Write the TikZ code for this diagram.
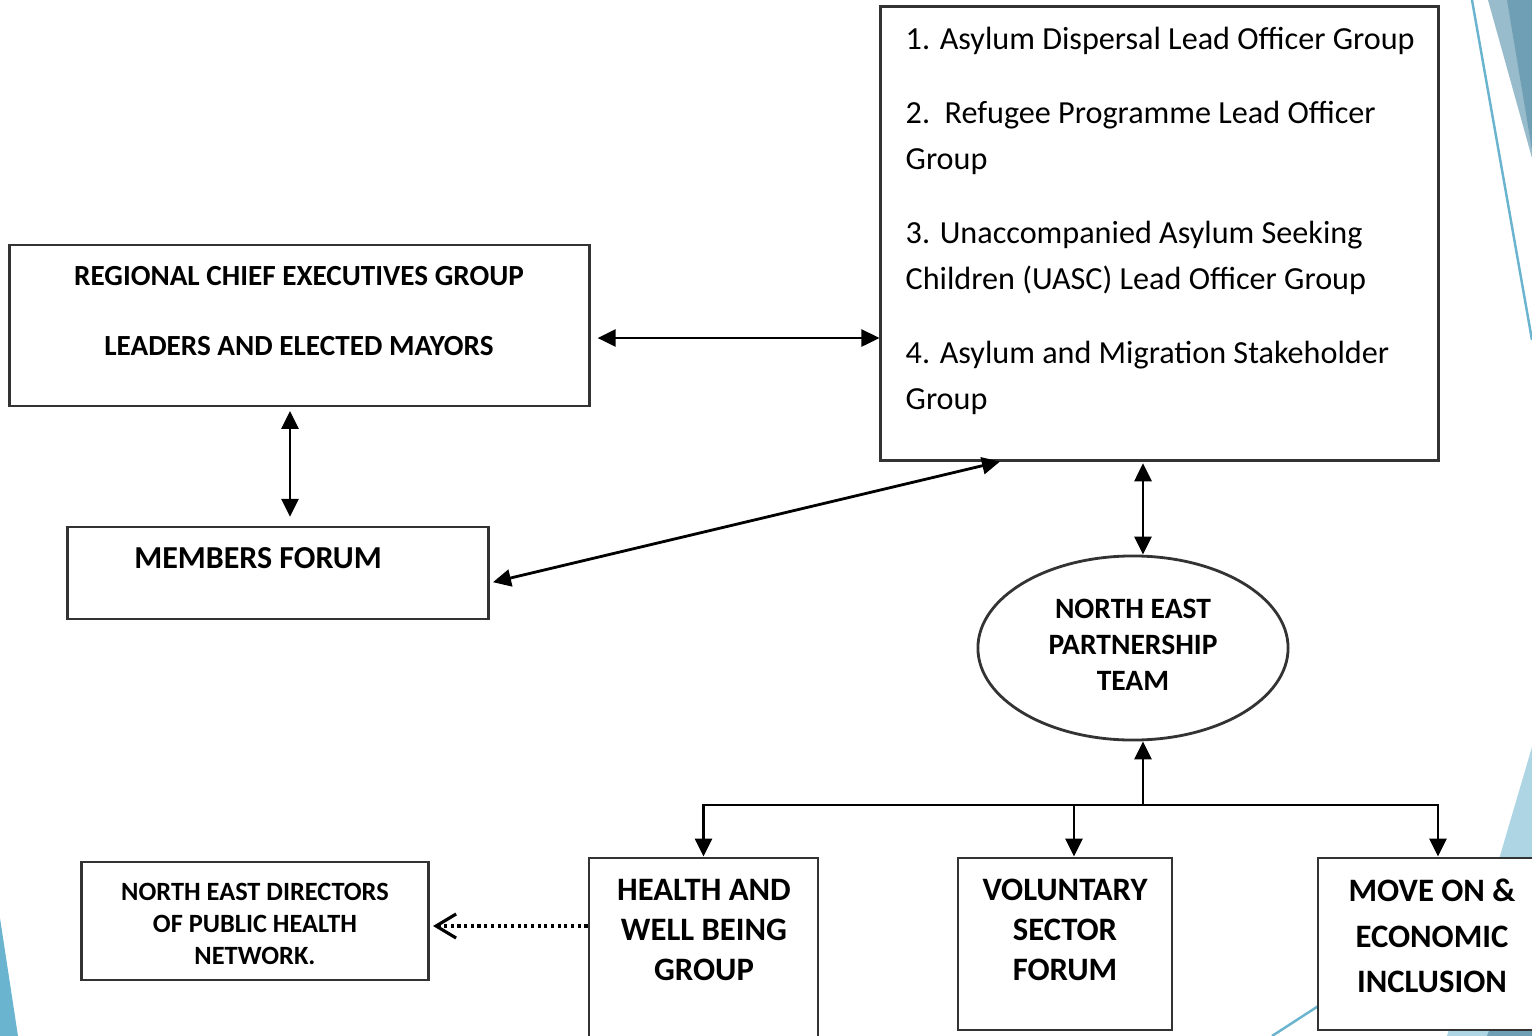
\documentclass[tikz,border=0pt]{standalone}
\usepackage{fontspec}
\setmainfont{Carlito}
\usetikzlibrary{arrows.meta, shapes.geometric}
\definecolor{decoline}{HTML}{6AB4D0}
\definecolor{decolight}{HTML}{ADD5E3}
\definecolor{decomid}{HTML}{98BCCB}
\definecolor{decodark}{HTML}{6E9FB4}

\begin{document}
\begin{tikzpicture}[x=0.01cm, y=-0.01cm, >={Triangle[length=1.8mm, width=1.7mm]},
  box/.style={rectangle, draw=black!80, line width=0.8pt, fill=white, inner sep=0pt},
  boxtext/.style={font=\bfseries\fontsize{8.4}{10.2}\selectfont, align=center, inner sep=0pt},
  link/.style={<->, line width=0.8pt},
  down/.style={->, line width=0.8pt},
  dots/.style={-{Straight Barb[length=2mm, width=2.4mm]}, densely dotted, line width=0.9pt}
]
\useasboundingbox (0,0) rectangle (1532,1036);
% slide decoration
\fill[decomid] (1488,0) -- (1532,0) -- (1532,158) -- cycle;
\fill[decodark] (1507,0) -- (1532,0) -- (1532,150) -- cycle;
\draw[decoline, line width=0.7pt] (1472,0) -- (1532,340);
\fill[decolight] (1532,747) -- (1532,1036) -- (1447,1036) -- cycle;
\fill[decodark] (1487,1036) -- (1532,1036) -- (1532,920) -- cycle;
\draw[decoline, line width=0.7pt] (1272,1036) -- (1340,992);
\fill[decoline] (0,918) -- (0,1036) -- (18,1036) -- cycle;

% boxes
\node[box, minimum width=5.79cm, minimum height=1.61cm] (rce) at (299.5,325.5) {};
\node[box, minimum width=4.20cm, minimum height=0.92cm] (mem) at (278,573) {};
\node[box, minimum width=5.57cm, minimum height=4.53cm] (list) at (1159.5,233.5) {};
\node[box, ellipse, minimum width=3.10cm, minimum height=1.84cm] (ne) at (1133,648) {};
\node[box, minimum width=3.46cm, minimum height=1.18cm] (nd) at (255,921) {};
\node[box, minimum width=2.29cm, minimum height=2.02cm] (hw) at (703.5,959) {};
\node[box, minimum width=2.14cm, minimum height=1.72cm] (vs) at (1065,944) {};
\node[box, minimum width=2.40cm, minimum height=1.72cm] (mo) at (1438,944) {};

% texts
\node[boxtext, font=\bfseries\fontsize{8.3}{10}\selectfont] (rcetext) at (299,311) {REGIONAL CHIEF EXECUTIVES GROUP\\[9.9pt]LEADERS AND ELECTED MAYORS};
\node[boxtext, font=\bfseries\fontsize{9.1}{11}\selectfont] (memtext) at (258,558) {MEMBERS FORUM};
\node[anchor=north west, align=left, inner sep=0pt, font=\fontsize{9.15}{13.1}\selectfont] (listtext) at (905,26)
  {1. Asylum Dispersal Lead Officer Group\\[8pt]
   2.\ \ Refugee Programme Lead Officer\\Group\\[8pt]
   3. Unaccompanied Asylum Seeking\\Children (UASC) Lead Officer Group\\[8pt]
   4. Asylum and Migration Stakeholder\\Group};
\node[boxtext] (netext) at (1133,645) {NORTH EAST\\PARTNERSHIP\\TEAM};
\node[boxtext, font=\bfseries\fontsize{7.5}{9.2}\selectfont] (ndtext) at (255,924) {NORTH EAST DIRECTORS\\OF PUBLIC HEALTH\\NETWORK.};
\node[boxtext, font=\bfseries\fontsize{9.3}{11.4}\selectfont] (hwtext) at (704,930) {HEALTH AND\\WELL BEING\\GROUP};
\node[boxtext, font=\bfseries\fontsize{9.3}{11.4}\selectfont] (vstext) at (1065,930) {VOLUNTARY\\SECTOR\\FORUM};
\node[boxtext, font=\bfseries\fontsize{9.3}{13}\selectfont] (motext) at (1432,936) {MOVE ON \&\\ECONOMIC\\INCLUSION};

% connectors
\draw[link, shorten <=2pt] (rce.east |- 0,338) -- (list.west |- 0,338);
\draw[link, shorten <=1pt, shorten >=2.5pt] (rce.south -| 290,0) -- (mem.north -| 290,0);
\draw[link, shorten <=1pt] (mem.east |- 0,583) -- (list.south -| 1000,0);
\draw[link, shorten <=0.5pt] (list.south -| 1143,0) -- (ne.north -| 1143,0);
\coordinate (fork) at (1143,805);
\draw[down] (fork) -- (ne.south -| fork);
\draw[down] (fork) -| (hw.north);
\draw[down] (fork) -| (vs.north -| 1074,0);
\draw[down] (fork) -| (mo.north);
\draw[dots, shorten >=1pt] (hw.west |- 0,926) -- (nd.east |- 0,926);
\end{tikzpicture}
\end{document}
